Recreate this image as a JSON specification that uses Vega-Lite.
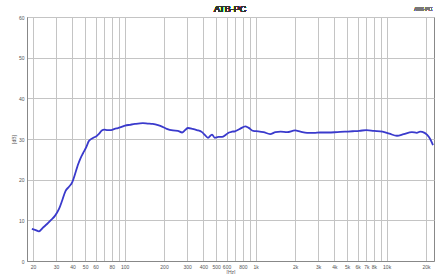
{
  "$schema": "https://vega.github.io/schema/vega-lite/v6.json",
  "autosize": "none",
  "width": 407,
  "height": 244,
  "padding": {"left": 27, "top": 17, "right": 12, "bottom": 13},
  "background": "white",
  "config": {
    "view": {"stroke": "#888888", "strokeWidth": 1},
    "axis": {
      "grid": true, "gridColor": "#c4c4c4", "gridWidth": 1, "ticks": false,
      "domainColor": "#888888", "labelFont": "Liberation Sans", "labelFontSize": 5,
      "labelColor": "#555555", "titleFont": "Liberation Sans", "titleFontSize": 5,
      "titleFontWeight": "normal", "titleColor": "#555555"
    }
  },
  "data": {"values": [
    {"f": 19.6, "db": 7.9}, {"f": 21, "db": 7.6}, {"f": 22.2, "db": 7.3}, {"f": 24, "db": 8.3},
    {"f": 25.6, "db": 9.1}, {"f": 27.5, "db": 10.1}, {"f": 29.4, "db": 11.1}, {"f": 31.6, "db": 12.8},
    {"f": 33.5, "db": 15.0}, {"f": 35.4, "db": 17.2}, {"f": 37.5, "db": 18.2}, {"f": 39.9, "db": 19.4},
    {"f": 42, "db": 21.5}, {"f": 44, "db": 23.6}, {"f": 46, "db": 25.2}, {"f": 48.2, "db": 26.5},
    {"f": 51, "db": 28.0}, {"f": 53.4, "db": 29.5}, {"f": 57, "db": 30.2}, {"f": 61, "db": 30.7},
    {"f": 64, "db": 31.3}, {"f": 67, "db": 32.1}, {"f": 70, "db": 32.3}, {"f": 74, "db": 32.2},
    {"f": 79, "db": 32.2}, {"f": 84, "db": 32.5}, {"f": 89, "db": 32.7}, {"f": 95, "db": 33.0},
    {"f": 101, "db": 33.3}, {"f": 110, "db": 33.5}, {"f": 120, "db": 33.7}, {"f": 138, "db": 33.9},
    {"f": 150, "db": 33.8}, {"f": 164, "db": 33.7}, {"f": 180, "db": 33.4}, {"f": 195, "db": 33.0},
    {"f": 210, "db": 32.5}, {"f": 234, "db": 32.1}, {"f": 255, "db": 32.0}, {"f": 275, "db": 31.6},
    {"f": 290, "db": 32.2}, {"f": 305, "db": 32.7}, {"f": 330, "db": 32.5}, {"f": 356, "db": 32.2},
    {"f": 390, "db": 31.7}, {"f": 410, "db": 31.0}, {"f": 433, "db": 30.3}, {"f": 465, "db": 31.1},
    {"f": 488, "db": 30.3}, {"f": 520, "db": 30.5}, {"f": 555, "db": 30.5}, {"f": 590, "db": 31.0},
    {"f": 627, "db": 31.6}, {"f": 660, "db": 31.8}, {"f": 695, "db": 31.9}, {"f": 760, "db": 32.5},
    {"f": 835, "db": 33.1}, {"f": 880, "db": 32.8}, {"f": 960, "db": 32.0}, {"f": 1050, "db": 31.9},
    {"f": 1150, "db": 31.7}, {"f": 1290, "db": 31.2}, {"f": 1420, "db": 31.7}, {"f": 1550, "db": 31.8},
    {"f": 1740, "db": 31.7}, {"f": 2000, "db": 32.1}, {"f": 2200, "db": 31.8}, {"f": 2470, "db": 31.5},
    {"f": 2800, "db": 31.5}, {"f": 3100, "db": 31.6}, {"f": 3600, "db": 31.6}, {"f": 4200, "db": 31.7},
    {"f": 4800, "db": 31.8}, {"f": 5500, "db": 31.9}, {"f": 6200, "db": 32.0}, {"f": 7000, "db": 32.2},
    {"f": 8000, "db": 32.0}, {"f": 9300, "db": 31.8}, {"f": 10500, "db": 31.3}, {"f": 12000, "db": 30.8},
    {"f": 13500, "db": 31.2}, {"f": 15600, "db": 31.7}, {"f": 17000, "db": 31.5}, {"f": 18000, "db": 31.8},
    {"f": 19500, "db": 31.5}, {"f": 20400, "db": 31.0}, {"f": 21500, "db": 30.0}, {"f": 22600, "db": 28.5}
  ]},
  "layer": [
    {
      "mark": {"type": "line", "color": "#3a3acc", "strokeWidth": 1.8, "interpolate": "monotone"},
      "encoding": {
        "x": {"field": "f", "type": "quantitative",
          "scale": {"type": "log", "domain": [18, 23000], "nice": false},
          "axis": {"title": "[Hz]", "titlePadding": 0,
            "values": [20,30,40,50,60,70,80,90,100,200,300,400,500,600,700,800,900,1000,2000,3000,4000,5000,6000,7000,8000,9000,10000,20000],
            "labelExpr": "indexof([70,90,700,900,9000], datum.value) >= 0 ? '' : (datum.value >= 1000 ? (datum.value/1000) + 'k' : datum.value)",
            "labelOverlap": false, "labelFlush": false, "labelPadding": 3}},
        "y": {"field": "db", "type": "quantitative",
          "scale": {"domain": [0, 60], "nice": false},
          "axis": {"title": "[dB]", "values": [0,5,10,15,20,25,30,35,40,45,50,55,60], "labelPadding": 3, "titlePadding": 2}}
      }
    },
    {
      "mark": {"type": "text", "text": "ATB-PC", "fontSize": 9, "font": "Liberation Sans", "color": "#333333", "align": "center", "baseline": "middle"},
      "encoding": {"x": {"datum": 640}, "y": {"datum": 62.0}}
    },
    {
      "mark": {"type": "text", "text": "ATB-PC", "fontSize": 5, "font": "Liberation Sans", "color": "#777777", "align": "center", "baseline": "middle"},
      "encoding": {"x": {"datum": 19000}, "y": {"datum": 62.0}}
    }
  ]
}
